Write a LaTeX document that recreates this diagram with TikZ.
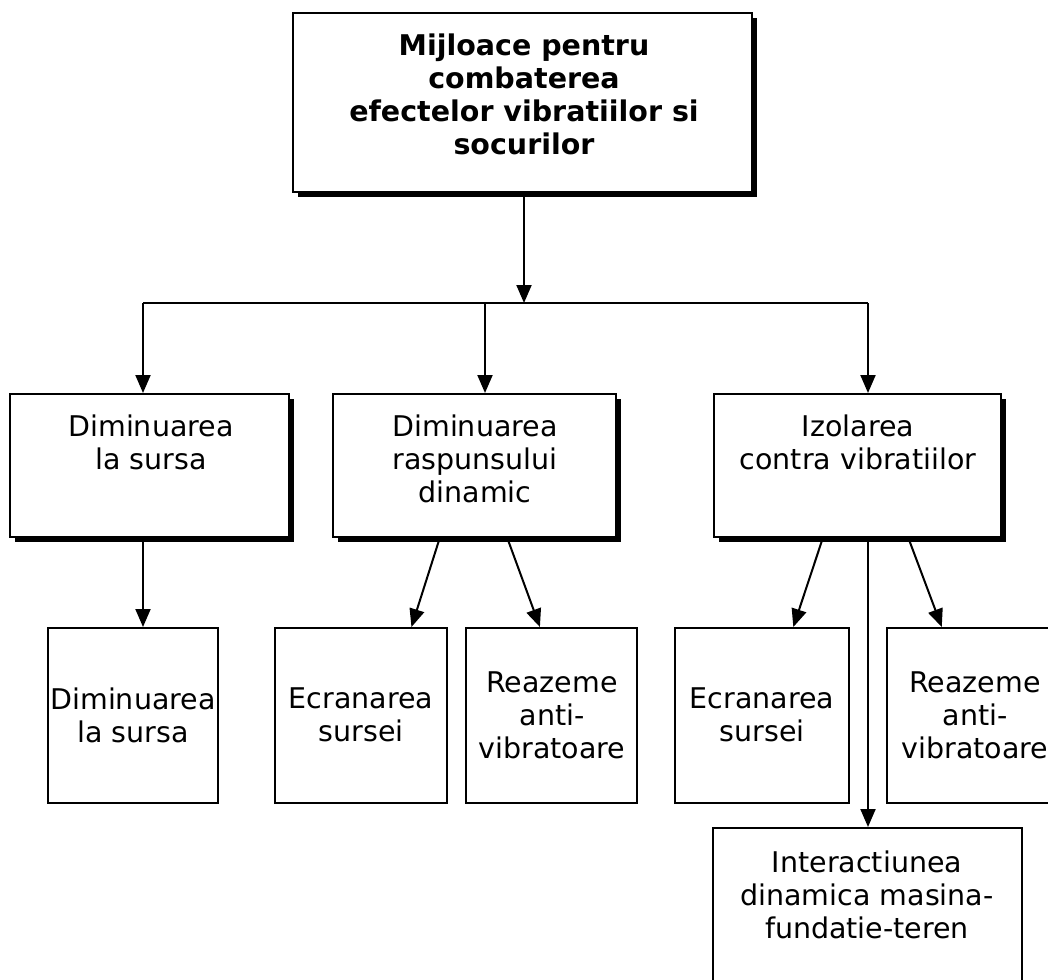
\documentclass[tikz,border=0pt]{standalone}
\usepackage{fontspec}
\setmainfont{DejaVu Sans}
\usetikzlibrary{arrows.meta,fit,calc,shadows}
\begin{document}
\begin{tikzpicture}[x=1pt,y=-1pt,
  box/.style={draw=black, line width=2pt, fill=white, inner sep=0pt},
  sbox/.style={box, drop shadow={shadow xshift=5pt, shadow yshift=-5pt, fill=black, opacity=1}},
  txt/.style={align=center, inner sep=0pt, anchor=north, font=\fontsize{28.5}{33}\selectfont},
  btxt/.style={txt, font=\fontsize{28.5}{33}\selectfont\bfseries},
  conn/.style={line width=2pt},
  arr/.style={conn, -{Triangle[width=15pt,length=18pt]}}]
\useasboundingbox (0,0) rectangle (1048,979);
\fill[white] (0,0) rectangle (1048,979);
\clip (0,0) rectangle (1048,979);
% boxes
\node[sbox, fit={(293,13) (752,192)}] (top) {};
\node[sbox, fit={(10,394) (289,537)}] (b1) {};
\node[sbox, fit={(333,394) (616,537)}] (b2) {};
\node[sbox, fit={(714,394) (1001,537)}] (b3) {};
\node[box, fit={(48,628) (218,803)}] (b4) {};
\node[box, fit={(275,628) (447,803)}] (b5) {};
\node[box, fit={(466,628) (637,803)}] (b6) {};
\node[box, fit={(675,628) (849,803)}] (b7) {};
\node[box, fit={(887,628) (1062,803)}] (b8) {};
\node[box, fit={(713,828) (1022,1000)}] (b9) {};
% texts
\node[btxt] (t0) at (524,34) {Mijloace pentru\\combaterea\\efectelor vibratiilor si\\socurilor};
\node[txt] (t1) at (151,415) {Diminuarea\\la sursa};
\node[txt] (t2) at (475,415) {Diminuarea\\raspunsului\\dinamic};
\node[txt] (t3) at (858,415) {Izolarea\\contra vibratiilor};
\node[txt] (t4) at (133,688) {Diminuarea\\la sursa};
\node[txt] (t5) at (361,688) {Ecranarea\\sursei};
\node[txt] (t6) at (552,672) {Reazeme\\anti-\\vibratoare};
\node[txt] (t7) at (762,688) {Ecranarea\\sursei};
\node[txt] (t8) at (975,672) {Reazeme\\anti-\\vibratoare};
\node[txt] (t9) at (867,851) {Interactiunea\\dinamica masina-\\fundatie-teren};
% junction
\coordinate (jm) at (524,303);
\coordinate (jl) at (143,303);
\coordinate (jc) at (485,303);
\coordinate (jr) at (868,303);
\draw[arr] (top.south -| jm) -- (jm);
\draw[conn] (jl) -- (jr);
\draw[arr] (jl) -- (jl |- b1.north);
\draw[arr] (jc) -- (jc |- b2.north);
\draw[arr] (jr) -- (jr |- b3.north);
% second level
\draw[arr] (jl |- b1.south) -- (jl |- b4.north);
\draw[arr] ($(b2.south west)!0.378!(b2.south east)$) -- ($(b5.north west)!0.79!(b5.north east)$);
\draw[arr] ($(b2.south west)!0.615!(b2.south east)$) -- ($(b6.north west)!0.433!(b6.north east)$);
\draw[arr] ($(b3.south west)!0.38!(b3.south east)$) -- ($(b7.north west)!0.678!(b7.north east)$);
\draw[arr] ($(b3.south west)!0.676!(b3.south east)$) -- ($(b8.north west)!0.315!(b8.north east)$);
\draw[arr] (jr |- b3.south) -- (jr |- b9.north);
\end{tikzpicture}
\end{document}
